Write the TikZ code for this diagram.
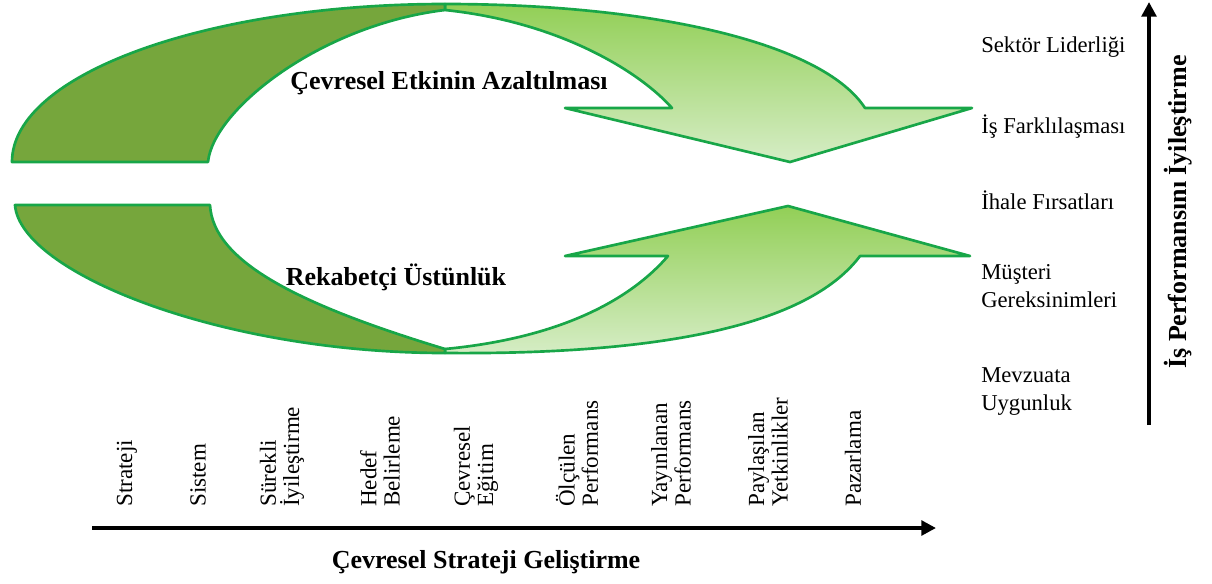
\documentclass[tikz,border=0pt]{standalone}
\usepackage{fontspec}
\setmainfont{Liberation Serif}
\usetikzlibrary{arrows.meta}

\tikzset{
  darkpart/.style={draw={rgb, 255:red, 24; green, 166; blue, 72}, line width=2pt, line join=round, fill={rgb, 255:red, 118; green, 166; blue, 60}},
  lightpart/.style={draw={rgb, 255:red, 24; green, 166; blue, 72}, line width=2pt, line join=round, top color={rgb, 255:red, 146; green, 207; blue, 86}, bottom color={rgb, 255:red, 214; green, 237; blue, 198}},
  axisline/.style={line width=3pt, -{Triangle[length=11pt, width=11pt]}},
  headlbl/.style={inner sep=0.75pt, font=\fontsize{19.5}{23}\selectfont\bfseries},
  sidelbl/.style={anchor=west, inner sep=0.75pt, align=left, font=\fontsize{17}{21}\selectfont},
  rotlbl/.style={anchor=west, rotate=90, inner sep=0.75pt, align=left, font=\fontsize{17.3}{17.5}\selectfont}
}

\begin{document}
\begin{tikzpicture}[x=0.75pt,y=0.75pt,yscale=-1,xscale=1]
\useasboundingbox (0,0) rectangle (1212,583);

%Shape: Upper Light Arrow
\draw [lightpart] (445,4) .. controls (650,4) and (822,42) .. (865,108) -- (972,108) -- (790,162) -- (565,108) -- (672,108) .. controls (640,72) and (560,22) .. (445,10) -- cycle ;
%Shape: Upper Dark Band
\draw [darkpart] (12,162) -- (208,162) .. controls (213,110) and (320,25) .. (445,10) -- (445,4) .. controls (208,4) and (12,74) .. (12,162) -- cycle ;

%Shape: Lower Light Arrow
\draw [lightpart] (445,353) .. controls (680,355) and (812,320) .. (860,256) -- (970,256) -- (788,206) -- (565,256) -- (668,256) .. controls (630,300) and (560,338) .. (445,349) -- cycle ;
%Shape: Lower Dark Band
\draw [darkpart] (15,205) -- (210,205) .. controls (213,262) and (300,305) .. (445,349) -- (445,353) .. controls (220,353) and (20,272) .. (15,205) -- cycle ;

%Straight Lines
\coordinate (xstart) at (92,528);
\coordinate (xend) at (936,528);
\draw [axisline] (xstart) -- (xend) ;
%Straight Lines
\coordinate (ystart) at (1149,425);
\coordinate (yend) at (1149,2);
\draw [axisline] (ystart) -- (yend) ;

% Text Node
\draw (449,83) node (reduce) [headlbl] {Çevresel Etkinin Azaltılması};
% Text Node
\draw (396,277) node (compete) [headlbl] {Rekabetçi Üstünlük};
% Text Node
\draw (486,562) node (xtitle) [headlbl] {Çevresel Strateji Geliştirme};
% Text Node
\draw (1178,212) node (ytitle) [headlbl, rotate=90] {İş Performansını İyileştirme};

% Text Node
\draw (980,47) node (leader) [sidelbl] {Sektör Liderliği};
% Text Node
\draw (980,127) node (differ) [sidelbl] {İş Farklılaşması};
% Text Node
\draw (980,200) node (tender) [sidelbl] {İhale Fırsatları};
% Text Node
\draw (980,286) node (customer) [sidelbl] {Müşteri\\Gereksinimleri};
% Text Node
\draw (980,392) node (legal) [sidelbl] {Mevzuata\\Uygunluk};

% Text Node
\draw (127,508) node (strategy) [rotlbl] {Strateji};
% Text Node
\draw (198,508) node (system) [rotlbl] {Sistem};
% Text Node
\draw (282,508) node (improve) [rotlbl] {Sürekli\\İyileştirme};
% Text Node
\draw (380,508) node (target) [rotlbl] {Hedef\\Belirleme};
% Text Node
\draw (476,508) node (training) [rotlbl] {Çevresel\\Eğitim};
% Text Node
\draw (577,508) node (measured) [rotlbl] {Ölçülen\\Performans};
% Text Node
\draw (671,508) node (published) [rotlbl] {Yayınlanan\\Performans};
% Text Node
\draw (768,508) node (shared) [rotlbl] {Paylaşılan\\Yetkinlikler};
% Text Node
\draw (853,508) node (marketing) [rotlbl] {Pazarlama};

\end{tikzpicture}
\end{document}
